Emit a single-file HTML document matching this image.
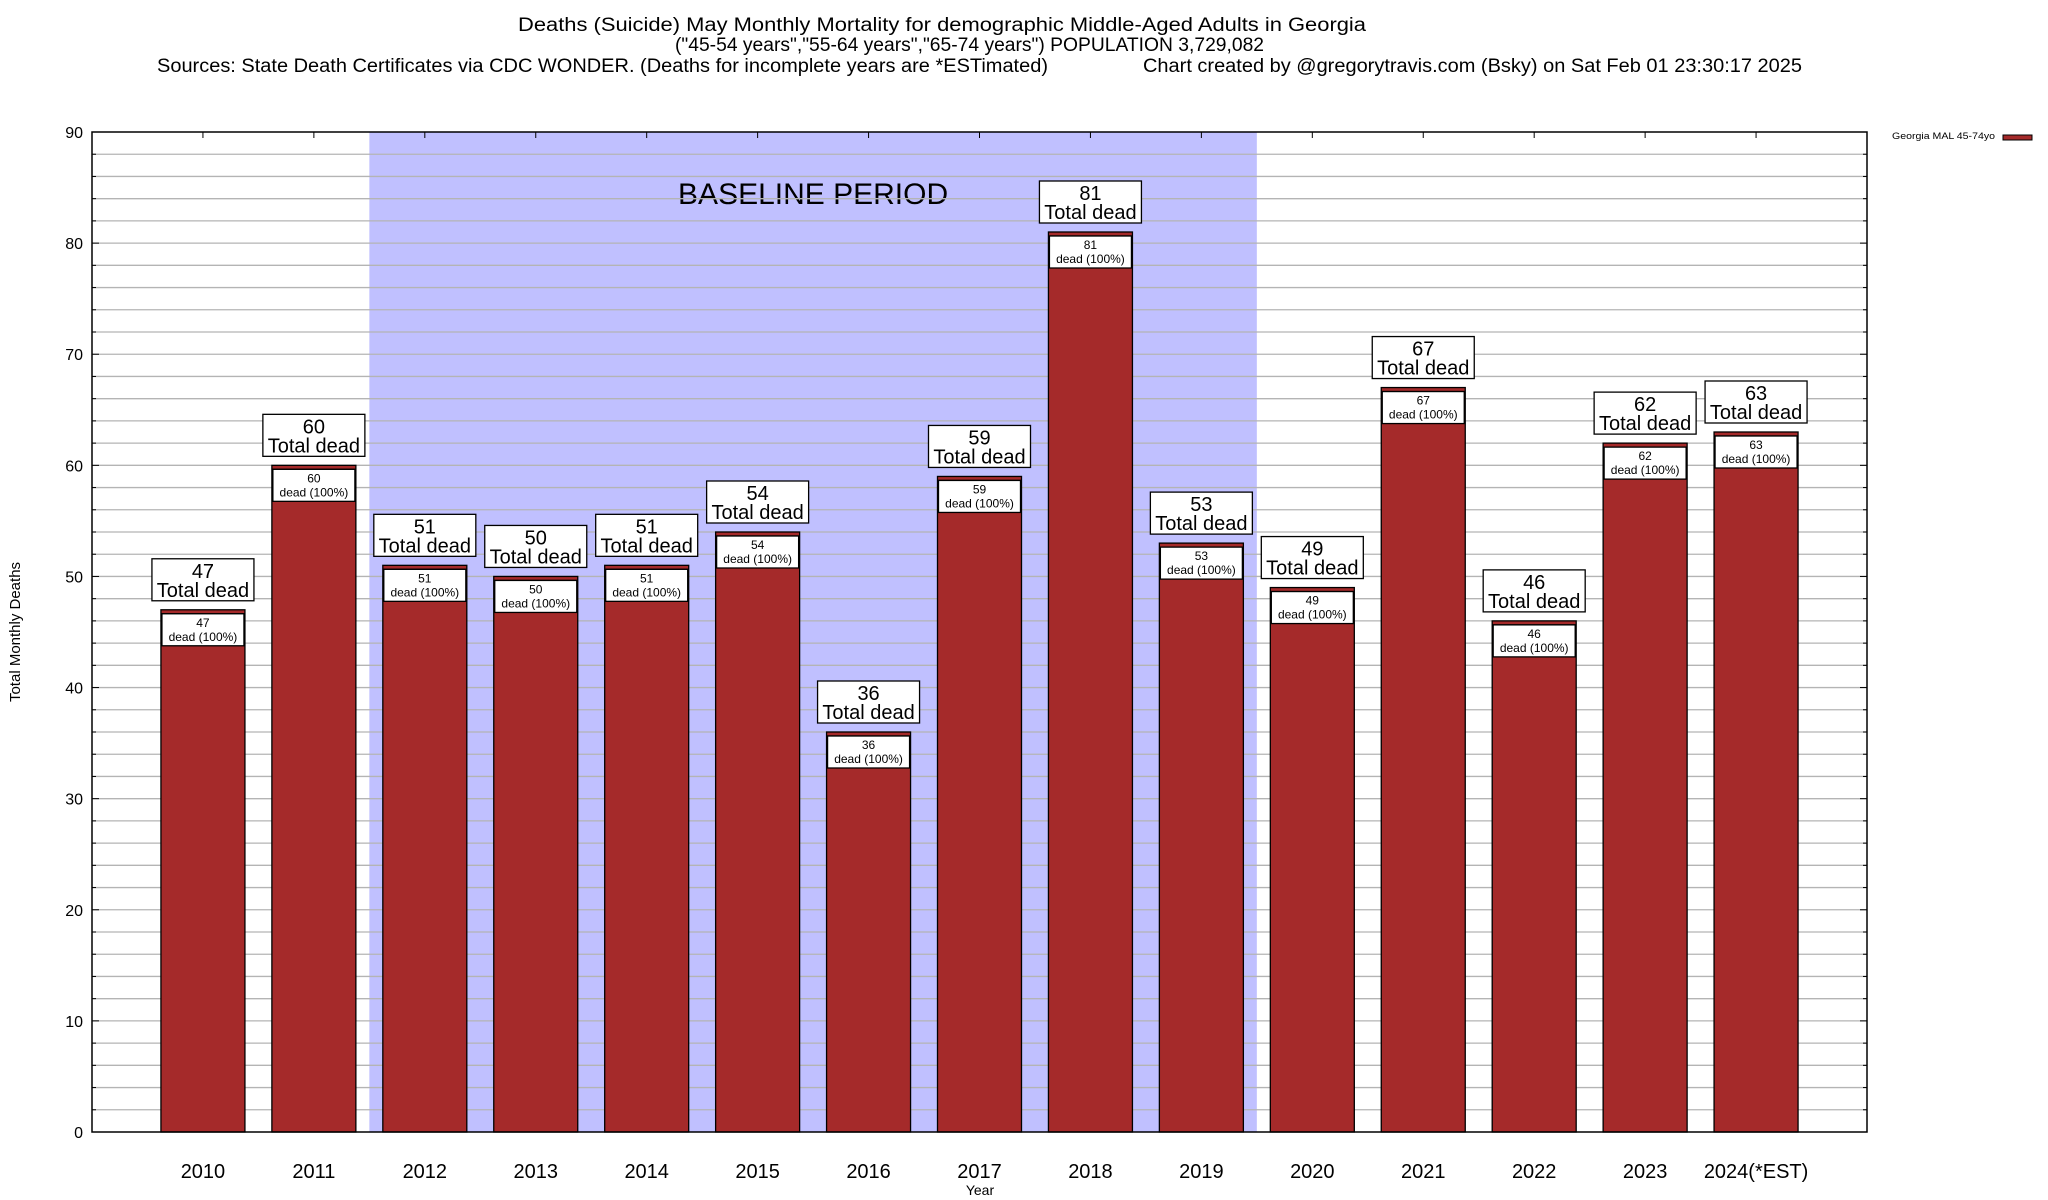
<!DOCTYPE html>
<html><head><meta charset="utf-8"><style>
body{margin:0;background:#fff;}
svg{display:block;font-family:"Liberation Sans",sans-serif;}
</style></head><body>
<svg id="chart" width="2048" height="1200" viewBox="0 0 2048 1200" xmlns="http://www.w3.org/2000/svg">
<g font-size="19">
<text x="518" y="31" textLength="848" lengthAdjust="spacingAndGlyphs">Deaths (Suicide) May Monthly Mortality for demographic Middle-Aged Adults in Georgia</text>
<text x="675" y="51" textLength="589" lengthAdjust="spacingAndGlyphs">("45-54 years","55-64 years","65-74 years") POPULATION 3,729,082</text>
<text x="157" y="72" textLength="891" lengthAdjust="spacingAndGlyphs">Sources: State Death Certificates via CDC WONDER. (Deaths for incomplete years are *ESTimated)</text>
<text x="1143" y="72" textLength="659" lengthAdjust="spacingAndGlyphs">Chart created by @gregorytravis.com (Bsky) on Sat Feb 01 23:30:17 2025</text>
</g>
<g id="plot"></g>
<text x="0" y="0" font-size="15" text-anchor="middle" transform="translate(20,632) rotate(-90)">Total Monthly Deaths</text>
<text x="980" y="1195" font-size="14" text-anchor="middle">Year</text>
<g>
<text x="1995" y="139" font-size="9.5" text-anchor="end" textLength="103" lengthAdjust="spacingAndGlyphs">Georgia MAL 45-74yo</text>
<rect x="2003" y="135" width="29" height="5" fill="#a52a2a" stroke="#000" stroke-width="1"/>
</g>
</svg>
<script>
const categories=["2010","2011","2012","2013","2014","2015","2016","2017","2018","2019","2020","2021","2022","2023","2024(*EST)"];
const values=[47,60,51,50,51,54,36,59,81,53,49,67,46,62,63];
const yTicks=[0,10,20,30,40,50,60,70,80,90];
const baseline=[2012,2019];
const NS="http://www.w3.org/2000/svg";
const L=92,R=1867,T=132,B=1132,yMax=90;
const step=(R-L)/(categories.length+1);
const xc=i=>L+(i+1)*step;
const y=v=>B-(v/yMax)*(B-T);
const g=document.getElementById('plot');
function mk(tag,attrs,parent){const e=document.createElementNS(NS,tag);for(const k in attrs)e.setAttribute(k,attrs[k]);(parent||g).appendChild(e);return e;}
const i0=categories.indexOf(String(baseline[0])),i1=categories.indexOf(String(baseline[1]));
const sh=mk('rect',{x:xc(i0)-step/2,y:T,width:(i1-i0+1)*step,height:B-T,fill:'#c0c0ff'});


const bt=mk('text',{x:(xc(i0)+xc(i1))/2,y:204,'font-size':30,'text-anchor':'middle'});
bt.textContent='BASELINE PERIOD';


for(let v=2;v<yMax;v+=2){const ln=mk('line',{x1:L,x2:R,y1:y(v),y2:y(v),stroke:'#b4b4b4','stroke-width':1.3});


mk('line',{x1:L,x2:L+(v%10==0?7:4),y1:y(v),y2:y(v),stroke:'#000'});
mk('line',{x1:R,x2:R-(v%10==0?7:4),y1:y(v),y2:y(v),stroke:'#000'});}
yTicks.forEach(v=>{const t=mk('text',{x:83,y:y(v)+6,'font-size':16,'text-anchor':'end'});t.textContent=v;

});
categories.forEach((c,i)=>{
 const v=values[i],cx=xc(i),w=84,top=y(v);
 const b=mk('rect',{x:cx-w/2,y:top,width:w,height:B-top,fill:'#a52a2a',stroke:'#000','stroke-width':1.3});
 
 
 mk('line',{x1:cx-w/2,x2:cx+w/2,y1:top+4,y2:top+4,stroke:'#000','stroke-width':1.3});
 const ib=mk('rect',{x:cx-w/2+1,y:top+4,width:w-2,height:32,fill:'#fff',stroke:'#000','stroke-width':1.3});
 
 
 const t1=mk('text',{x:cx,y:top+17,'font-size':12,'text-anchor':'middle'});t1.textContent=v;
 const t2=mk('text',{x:cx,y:top+31,'font-size':12,'text-anchor':'middle'});t2.textContent='dead (100%)';
 const ob=mk('rect',{x:cx-51,y:top-51,width:102,height:42,fill:'#fff',stroke:'#000','stroke-width':1.3});
 
 
 const t3=mk('text',{x:cx,y:top-32,'font-size':20,'text-anchor':'middle'});t3.textContent=v;
 const t4=mk('text',{x:cx,y:top-13,'font-size':20,'text-anchor':'middle'});t4.textContent='Total dead';
 mk('line',{x1:cx,x2:cx,y1:T,y2:T+6,stroke:'#000'});
 const xl=mk('text',{x:cx,y:1178,'font-size':20,'text-anchor':'middle'});xl.textContent=c;
 
 
});
const fr=mk('rect',{x:L,y:T,width:R-L,height:B-T,fill:'none',stroke:'#000','stroke-width':1.5});


</script>
</body></html>
